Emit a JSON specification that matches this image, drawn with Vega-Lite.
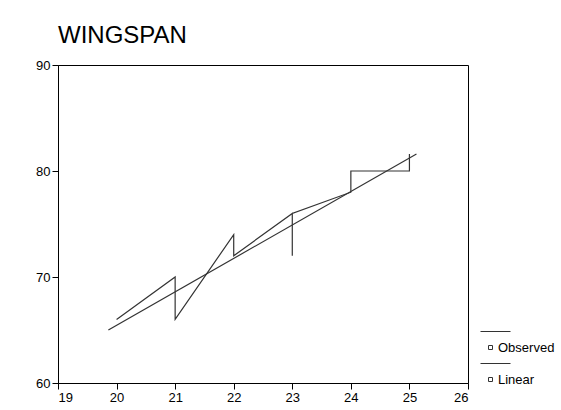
{
  "$schema": "https://vega.github.io/schema/vega-lite/v6.json",
  "autosize": {"type": "none"},
  "width": 410,
  "height": 318,
  "padding": {"left": 58, "top": 65, "right": 93, "bottom": 27},
  "background": "white",
  "title": {
    "text": "WINGSPAN",
    "anchor": "start",
    "frame": "group",
    "font": "Liberation Sans",
    "fontSize": 24,
    "fontWeight": "normal",
    "color": "black",
    "offset": 11
  },
  "config": {
    "view": {"stroke": "black", "strokeWidth": 1},
    "axis": {
      "grid": false,
      "domainColor": "black",
      "tickColor": "black",
      "labelColor": "black",
      "labelFont": "Liberation Sans",
      "labelFontSize": 13,
      "tickSize": 6,
      "labelPadding": 2,
      "title": null
    },
    "legend": {
      "labelFont": "Liberation Sans",
      "labelFontSize": 13,
      "labelColor": "black"
    }
  },
  "data": {
    "values": [
      {"series": "Observed", "i": 1, "age": 20, "wingspan": 66},
      {"series": "Observed", "i": 2, "age": 21, "wingspan": 70},
      {"series": "Observed", "i": 3, "age": 21, "wingspan": 66},
      {"series": "Observed", "i": 4, "age": 22, "wingspan": 74},
      {"series": "Observed", "i": 5, "age": 22, "wingspan": 72},
      {"series": "Observed", "i": 6, "age": 23, "wingspan": 76},
      {"series": "Observed", "i": 7, "age": 23, "wingspan": 72},
      {"series": "Observed", "i": 8, "age": 23, "wingspan": 76},
      {"series": "Observed", "i": 9, "age": 24, "wingspan": 78},
      {"series": "Observed", "i": 10, "age": 24, "wingspan": 80},
      {"series": "Observed", "i": 11, "age": 25, "wingspan": 80},
      {"series": "Observed", "i": 12, "age": 25, "wingspan": 81.6},
      {"series": "Linear", "i": 1, "age": 19.86, "wingspan": 65.0},
      {"series": "Linear", "i": 2, "age": 25.12, "wingspan": 81.6}
    ]
  },
  "mark": {"type": "line", "strokeWidth": 1.2},
  "encoding": {
    "x": {
      "field": "age",
      "type": "quantitative",
      "scale": {"domain": [19, 26], "nice": false, "zero": false},
      "axis": {"values": [19, 20, 21, 22, 23, 24, 25, 26], "format": "d"}
    },
    "y": {
      "field": "wingspan",
      "type": "quantitative",
      "scale": {"domain": [60, 90], "nice": false, "zero": false},
      "axis": {"values": [60, 70, 80, 90], "format": "d"}
    },
    "order": {"field": "i", "type": "quantitative"},
    "color": {
      "field": "series",
      "type": "nominal",
      "scale": {"domain": ["Observed", "Linear"], "range": ["#333333", "#333333"]},
      "legend": {
        "title": null,
        "orient": "none",
        "legendX": 422,
        "legendY": 272,
        "padding": 0,
        "symbolType": "M-1,-1.6H2M-0.2,-0.2H0.2V0.2H-0.2Z",
        "symbolSize": 400,
        "symbolStrokeWidth": 1,
        "symbolFillColor": "transparent",
        "rowPadding": 6,
        "labelOffset": -3
      }
    }
  }
}
